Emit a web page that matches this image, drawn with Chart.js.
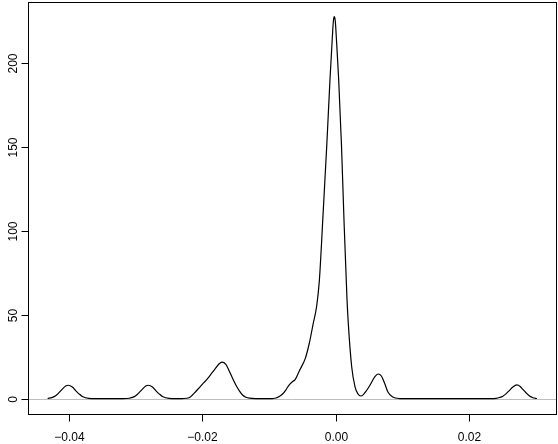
<!DOCTYPE html>
<html>
<head>
<meta charset="utf-8">
<script src="https://cdn.jsdelivr.net/npm/chart.js@4"></script>
<style>
html,body{margin:0;padding:0;background:#fff;}
#wrap{width:558px;height:444px;}
</style>
</head>
<body>
<div id="wrap"><canvas id="c" width="558" height="444"></canvas></div>
<script>
// density curve samples (x value, density)
const xs = [
  -0.0432,-0.0425,-0.042,-0.0415,-0.041,-0.0405,-0.0401,-0.0395,-0.039,-0.0385,-0.038,-0.037,-0.036,
  -0.035,-0.034,-0.033,-0.032,-0.031,-0.0305,-0.030,-0.0295,-0.029,-0.0285,-0.0281,-0.0275,-0.027,
  -0.0265,-0.026,-0.025,-0.024,-0.023,-0.022,-0.0215,-0.021,-0.0205,-0.020,-0.0195,-0.019,-0.0185,
  -0.018,-0.0175,-0.0171,-0.0165,-0.016,-0.0155,-0.015,-0.0145,-0.014,-0.0135,-0.013,-0.012,-0.011,
  -0.010,-0.0095,-0.009,-0.0085,-0.008,-0.0075,-0.007,-0.0065,-0.0061,-0.0055,-0.0046,-0.0040,-0.0034,
  -0.0029,-0.0025,-0.0022,-0.00199,-0.00138,-0.00090,-0.00055,-0.00040,-0.00025,-0.00010,0.00005,0.00040,0.00082,
  0.00120,0.00165,0.00184,0.00235,0.00285,0.0033,0.0037,0.0041,0.0045,0.0049,0.0053,0.0058,0.0063,
  0.0068,0.0073,0.0078,0.0085,0.0095,0.011,0.013,0.015,0.017,0.019,0.021,0.023,0.024,0.0245,0.025,
  0.0255,0.026,0.0265,0.0271,0.0276,0.028,0.0285,0.029,0.0295,0.0301
];
const ys = [
  0.1,0.8,1.8,3.6,5.7,7.5,8.0,7.0,4.85,2.9,1.3,0.15,0.01,
  0,0,0,0.01,0.25,0.8,1.8,3.6,5.7,7.5,8.0,7.0,4.85,
  2.9,1.3,0.15,0.02,0.1,0.6,2.2,4.3,6.5,8.7,10.8,13.2,15.8,
  18.3,20.8,21.8,20.5,16.5,12.2,8.2,4.8,2.2,0.9,0.3,0.02,0,
  0.01,0.1,0.4,1.3,2.8,5.3,8.3,10.2,11.5,16.5,24,33,45,
  55,70,90,106,151,190,215,224.5,227.4,224.5,215,190,151,
  106,59,45,19,7,2.8,1.6,2.4,4.5,6.8,9.5,13,14.7,
  13.5,9,3.8,1.0,0.1,0,0,0,0,0,0,0.02,0.2,0.7,1.5,
  3.0,5.0,7.0,8.2,7.3,5.5,3.4,1.6,0.6,0.1
];
const xTicks = [-0.04, -0.02, 0.00, 0.02];
const xTickLabels = ["\u22120.04", "\u22120.02", "0.00", "0.02"];
const yTicks = [0, 50, 100, 150, 200];
const yTickLabels = ["0", "50", "100", "150", "200"];

const points = xs.map((x, i) => ({x: x, y: ys[i]}));
const FONT = '12px "Liberation Sans", Arial, Helvetica, sans-serif';

const rAxes = {
  id: 'rAxes',
  beforeDatasetsDraw(chart) {
    const {ctx, chartArea: a, scales: {x, y}} = chart;
    const y0 = Math.round(y.getPixelForValue(0)) + 0.5;
    ctx.save();
    ctx.strokeStyle = '#bebebe';
    ctx.lineWidth = 1;
    ctx.beginPath();
    ctx.moveTo(a.left, y0);
    ctx.lineTo(a.right, y0);
    ctx.stroke();
    ctx.restore();
  },
  afterDraw(chart) {
    const {ctx, chartArea: a, scales: {x, y}} = chart;
    ctx.save();
    ctx.strokeStyle = '#000';
    ctx.lineWidth = 1;
    // box
    ctx.strokeRect(a.left + 0.5, a.top + 0.5, a.right - a.left - 1, a.bottom - a.top - 1);
    ctx.fillStyle = '#000';
    ctx.font = FONT;
    // x ticks
    const bot = a.bottom - 0.5;
    ctx.textAlign = 'center';
    ctx.textBaseline = 'middle';
    xTicks.forEach((v, i) => {
      const px = Math.round(x.getPixelForValue(v)) + 0.5;
      ctx.beginPath();
      ctx.moveTo(px, bot);
      ctx.lineTo(px, bot + 7);
      ctx.stroke();
      ctx.fillText(xTickLabels[i], px, bot + 23);
    });
    // y ticks
    const lft = a.left + 0.5;
    yTicks.forEach((v, i) => {
      const py = Math.round(y.getPixelForValue(v)) + 0.5;
      ctx.beginPath();
      ctx.moveTo(lft, py);
      ctx.lineTo(lft - 7, py);
      ctx.stroke();
      ctx.save();
      ctx.translate(lft - 15, py);
      ctx.rotate(-Math.PI / 2);
      ctx.fillText(yTickLabels[i], 0, 0);
      ctx.restore();
    });
    ctx.restore();
  }
};

new Chart(document.getElementById('c'), {
  type: 'line',
  data: {
    datasets: [{
      data: points,
      borderColor: '#000',
      borderWidth: 1.2,
      pointRadius: 0,
      fill: false,
      cubicInterpolationMode: 'monotone'
    }]
  },
  options: {
    responsive: false,
    animation: false,
    devicePixelRatio: 1,
    layout: {padding: {left: 28, top: 2, right: 1, bottom: 29}},
    plugins: {legend: {display: false}, tooltip: {enabled: false}},
    scales: {
      x: {type: 'linear', display: false, min: -0.046142, max: 0.033109},
      y: {type: 'linear', display: false, min: -9.7, max: 236.1}
    }
  },
  plugins: [rAxes]
});
</script>
</body>
</html>
